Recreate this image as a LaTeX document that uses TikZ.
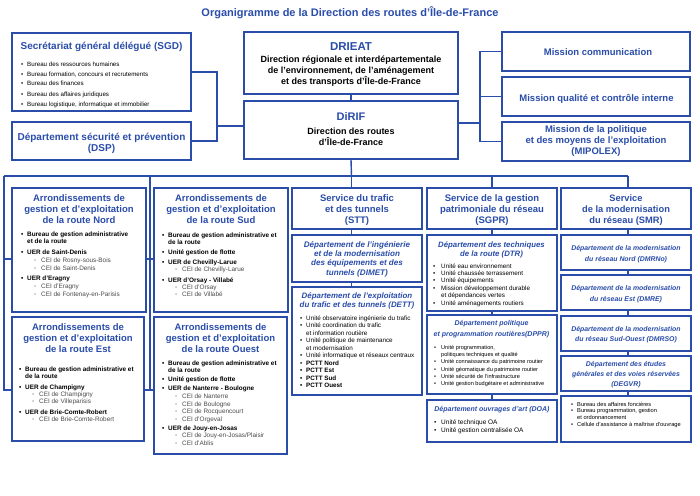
\documentclass[tikz,border=0pt]{standalone}
\usepackage{fontspec}
\setmainfont{Liberation Sans}
\usetikzlibrary{fit}
\definecolor{bl}{RGB}{42,77,170}
\definecolor{cei}{RGB}{75,75,75}
\newlength\bw
\setlength\bw{6pt}
\newcommand\blk[4]{\parbox[t]{#1}{\fontsize{#2}{#3}\selectfont\setlength\lineskiplimit{-20pt}\setlength\parskip{0pt}\setlength\parindent{0pt}#4}}
\newcommand\bu[1]{\makebox[\bw][l]{\textbullet}#1\par}
\newcommand\ct[1]{\hspace*{\bw}#1\par}
\newcommand\sbu[1]{\hspace*{13pt}\makebox[7pt][l]{\textcolor{cei}{\mdseries ◦}}\textcolor{cei}{\mdseries #1}\par}
\tikzset{
  box/.style={draw=bl, line width=1.5pt, inner sep=0pt, rectangle},
  conn/.style={draw=bl, line width=1.4pt},
  hd/.style={inner sep=0pt, anchor=base, text=bl, font=\bfseries},
  hdi/.style={inner sep=0pt, anchor=base, text=bl, font=\bfseries\itshape},
  hdk/.style={inner sep=0pt, anchor=base, text=black, font=\bfseries},
  lst/.style={inner sep=0pt, anchor=base west, text=black},
}
\begin{document}
\begin{tikzpicture}[x=1pt,y=-1pt]
\fill[white] (0,0) rectangle (700,495);
\useasboundingbox (0,0) rectangle (700,495);

% ---------- boxes ----------
\node[box, fit={(12,33) (191,111)}] (sgd) {};
\node[box, fit={(12,122) (191,160)}] (dsp) {};
\node[box, fit={(244,32) (458,94)}] (drieat) {};
\node[box, fit={(244,101) (458,159)}] (dirif) {};
\node[box, fit={(502,32) (690,71)}] (mcom) {};
\node[box, fit={(502,77) (690,116)}] (mqual) {};
\node[box, fit={(502,122) (690,161)}] (mipolex) {};
\node[box, fit={(12,188) (146,312)}] (nord) {};
\node[box, fit={(12,317) (144,441)}] (est) {};
\node[box, fit={(154,188) (288,312)}] (sud) {};
\node[box, fit={(154,317) (287,454)}] (ouest) {};
\node[box, fit={(292,188) (422,229)}] (stt) {};
\node[box, fit={(292,235) (422,282)}] (dimet) {};
\node[box, fit={(292,287) (422,395)}] (dett) {};
\node[box, fit={(427,188) (557,229)}] (sgpr) {};
\node[box, fit={(427,235) (557,311)}] (dtr) {};
\node[box, fit={(427,315) (557,394)}] (dppr) {};
\node[box, fit={(427,400) (557,442)}] (doa) {};
\node[box, fit={(561,188) (691,229)}] (smr) {};
\node[box, fit={(561,235) (691,270)}] (dmrno) {};
\node[box, fit={(561,275) (691,310)}] (dmre) {};
\node[box, fit={(561,316) (691,351)}] (dmrso) {};
\node[box, fit={(561,356) (691,391)}] (degvr) {};
\node[box, fit={(561,396) (691,442)}] (smrl) {};

% ---------- connectors ----------
\coordinate (jl) at (217,126);
\draw[conn] (sgd.east) -| (jl);
\draw[conn] (dsp.east) -| (jl);
\draw[conn] (jl) -- (jl -| dirif.west);
\coordinate (jr) at (480,123);
\draw[conn] (jr -| dirif.east) -- (jr);
\draw[conn] (mcom.west) -| (jr);
\draw[conn] (mqual.west) -| (jr);
\draw[conn] (mipolex.west) -| (jr);
\draw[conn] (drieat.south) -- (dirif.north);
\coordinate (bus) at (351.5,176);
\coordinate (busL) at (4,176);
\coordinate (busR) at (628,176);
\draw[conn] (dirif.south) -- (bus);
\draw[conn] (busL) -- (busR);
% column 1 and 2 brackets
\coordinate (c1m) at (4,259);
\coordinate (c1b) at (4,390);
\draw[conn] (busL) -- (c1b) -- (c1b -| est.west);
\draw[conn] (c1m) -- (c1m -| nord.west);
\coordinate (c2t) at (150,176);
\coordinate (c2m) at (150,259);
\coordinate (c2b) at (150,390);
\draw[conn] (c2t) -- (c2b);
\draw[conn] (c2m -| nord.east) -- (c2m -| sud.west);
\draw[conn] (c2b -| est.east) -- (c2b -| ouest.west);
% column 3
\draw[conn] (bus) -- (bus |- stt.north);
\draw[conn] (bus |- stt.south) -- (bus |- dimet.north);
\draw[conn] (bus |- dimet.south) -- (bus |- dett.north);
% column 4
\draw[conn] (sgpr.north |- bus) -- (sgpr.north);
\draw[conn] (sgpr.south) -- (dtr.north);
\draw[conn] (dtr.south) -- (dppr.north);
\draw[conn] (dppr.south) -- (doa.north);
% column 5
\draw[conn] (busR) -- (busR |- smr.north);
\draw[conn] (busR |- smr.south) -- (busR |- dmrno.north);
\draw[conn] (busR |- dmrno.south) -- (busR |- dmre.north);
\draw[conn] (busR |- dmre.south) -- (busR |- dmrso.north);
\draw[conn] (busR |- dmrso.south) -- (busR |- degvr.north);
\draw[conn] (busR |- degvr.south) -- (busR |- smrl.north);

% ---------- texts ----------
\node[hd] (title) at (350,16.7) {\fontsize{11}{13}\selectfont Organigramme de la Direction des routes d’Île-de-France};

\node[hd] (sgdT) at (101.5,49.5) {\fontsize{10}{12}\selectfont Secrétariat général délégué (SGD)};
\node[lst] (sgdL) at (21,66) {\blk{165pt}{6.2}{10}{%
\bu{Bureau des ressources humaines}\bu{Bureau formation, concours et recrutements}\bu{Bureau des finances}\bu{Bureau des affaires juridiques}\bu{Bureau logistique, informatique et immobilier}}};
\node[hd] (dspT) at (101.5,140.3) {\blk{175pt}{10}{10.7}{\centering Département sécurité et prévention\\(DSP)}};

\node[hd] (drieatT) at (351,50.1) {\fontsize{11.5}{13}\selectfont DRIEAT};
\node[hdk] (drieatS) at (351,62.3) {\blk{210pt}{9}{11.2}{\centering Direction régionale et interdépartementale\\de l’environnement, de l’aménagement\\et des transports d’Île-de-France}};
\node[hd] (dirifT) at (351,120) {\fontsize{11}{13}\selectfont DiRIF};
\node[hdk] (dirifS) at (351,134.7) {\blk{200pt}{9}{10.7}{\centering Direction des routes\\d’Île-de-France}};

\node[hd] (mcomT) at (598,55.3) {\fontsize{9.5}{11}\selectfont Mission communication};
\node[hd] (mqualT) at (596.5,101.3) {\fontsize{9.5}{11}\selectfont Mission qualité et contrôle interne};
\node[hd] (mipT) at (596,132.3) {\blk{185pt}{9.5}{11.3}{\centering Mission de la politique\\et des moyens de l'exploitation\\(MIPOLEX)}};

% column headings
\node[hd] (nordT) at (79,201.2) {\blk{132pt}{9.5}{11}{\centering Arrondissements de\\gestion et d’exploitation\\de la route Nord}};
\node[hd] (estT) at (78,330.5) {\blk{132pt}{9.5}{11}{\centering Arrondissements de\\gestion et d’exploitation\\de la route Est}};
\node[hd] (sudT) at (221,201.2) {\blk{132pt}{9.5}{11}{\centering Arrondissements de\\gestion et d’exploitation\\de la route Sud}};
\node[hd] (ouestT) at (220.5,330.8) {\blk{132pt}{9.5}{11}{\centering Arrondissements de\\gestion et d’exploitation\\de la route Ouest}};
\node[hd] (sttT) at (357,201.2) {\blk{128pt}{9.5}{11}{\centering Service du trafic\\et des tunnels\\(STT)}};
\node[hd] (sgprT) at (492,201.2) {\blk{128pt}{9.5}{11}{\centering Service de la gestion\\patrimoniale du réseau\\(SGPR)}};
\node[hd] (smrT) at (626,201.2) {\blk{128pt}{9.3}{11}{\centering Service\\de la modernisation\\du réseau (SMR)}};

% department headings
\node[hdi] (dimetT) at (357,247.7) {\blk{128pt}{8.1}{9.1}{\centering Département de l’ingénierie\\et de la modernisation\\des équipements et des\\tunnels (DIMET)}};
\node[hdi] (dettT) at (357,298.4) {\blk{128pt}{7.9}{9.3}{\centering Département de l’exploitation\\du trafic et des tunnels (DETT)}};
\node[hdi] (dtrT) at (491.5,247) {\blk{128pt}{7.8}{9}{\centering Département des techniques\\de la route (DTR)}};
\node[lst] (dtrdot) at (491,261.5) {\fontsize{5}{6}\selectfont .};
\node[hdi] (dpprT) at (491.5,325.6) {\blk{128pt}{7}{10.7}{\centering Département politique\\et programmation routières(DPPR)}};
\node[hdi] (doaT) at (492,411.7) {\fontsize{7}{9}\selectfont Département ouvrages d’art (DOA)};
\node[hdi] (dmrnoT) at (626,250.6) {\blk{128pt}{6.9}{10.7}{\centering Département de la modernisation\\du réseau Nord (DMRNo)}};
\node[hdi] (dmreT) at (626,290.6) {\blk{128pt}{6.9}{10.7}{\centering Département de la modernisation\\du réseau Est (DMRE)}};
\node[hdi] (dmrsoT) at (626,331.3) {\blk{128pt}{6.9}{10}{\centering Département de la modernisation\\du réseau Sud-Ouest (DMRSO)}};
\node[hdi] (degvrT) at (626,366.6) {\blk{128pt}{6.9}{9.8}{\centering Département des études\\générales et des voies réservées\\(DEGVR)}};

% lists
\node[lst] (nordL) at (21,236.3) {\blk{125pt}{6.4}{7.6}{\bfseries
\bu{Bureau de gestion administrative}\ct{et de la route}\vspace{3.3pt}%
\bu{UER de Saint-Denis}\sbu{CEI de Rosny-sous-Bois}\sbu{CEI de Saint-Denis}\vspace{3.3pt}%
\bu{UER d’Eragny}\sbu{CEI d’Eragny}\sbu{CEI de Fontenay-en-Parisis}}};
\node[lst] (estL) at (19,371.3) {\blk{125pt}{6.4}{7.4}{\bfseries
\bu{Bureau de gestion administrative et}\ct{de la route}\vspace{3pt}%
\bu{UER de Champigny}\sbu{CEI de Champigny}\sbu{CEI de Villeparisis}\vspace{3pt}%
\bu{UER de Brie-Comte-Robert}\sbu{CEI de Brie-Comte-Robert}}};
\node[lst] (sudL) at (162,237) {\blk{125pt}{6.4}{7.2}{\bfseries
\bu{Bureau de gestion administrative et}\ct{de la route}\vspace{3pt}%
\bu{Unité gestion de flotte}\vspace{3pt}%
\bu{UER de Chevilly-Larue}\sbu{CEI de Chevilly-Larue}\vspace{3pt}%
\bu{UER d’Orsay - Villabé}\sbu{CEI d’Orsay}\sbu{CEI de Villabé}}};
\node[lst] (ouestL) at (162,365.3) {\blk{125pt}{6.4}{7.6}{\bfseries
\bu{Bureau de gestion administrative et}\ct{de la route}\vspace{1.4pt}%
\bu{Unité gestion de flotte}\vspace{1.4pt}%
\bu{UER de Nanterre - Boulogne}\sbu{CEI de Nanterre}\sbu{CEI de Boulogne}\sbu{CEI de Rocquencourt}\sbu{CEI d’Orgeval}\vspace{1.4pt}%
\bu{UER de Jouy-en-Josas}\sbu{CEI de Jouy-en-Josas/Plaisir}\sbu{CEI d’Ablis}}};
\node[lst] (dettL) at (300,320.3) {\blk{120pt}{6.3}{7.5}{%
\bu{Unité observatoire ingénierie du trafic}\bu{Unité coordination du trafic}\ct{et information routière}%
\bu{Unité politique de maintenance}\ct{et modernisation}\bu{Unité informatique et réseaux centraux}%
\bu{\bfseries PCTT Nord}\bu{\bfseries PCTT Est}\bu{\bfseries PCTT Sud}\bu{\bfseries PCTT Ouest}}};
\node[lst] (dtrL) at (433,268) {\blk{122pt}{6.3}{7.4}{\setlength\bw{8pt}%
\bu{Unité eau environnement}\bu{Unité chaussée terrassement}\bu{Unité équipements}%
\bu{Mission développement durable}\ct{et dépendances vertes}\bu{Unité aménagements routiers}}};
\node[lst] (dpprL) at (434,349.1) {\blk{122pt}{5.6}{7.3}{\setlength\bw{7pt}%
\bu{Unité programmation,}\ct{politiques techniques et qualité}\bu{Unité connaissance du patrimoine routier}%
\bu{Unité géomatique du patrimoine routier}\bu{Unité sécurité de l’infrastructure}\bu{Unité gestion budgétaire et administrative}}};
\node[lst] (doaL) at (434,424.5) {\blk{122pt}{6.5}{7.7}{\setlength\bw{7pt}%
\bu{Unité technique OA}\bu{Unité gestion centralisée OA}}};
\node[lst] (smrL) at (571,406) {\blk{120pt}{5.7}{6.9}{%
\bu{Bureau des affaires foncières}\bu{Bureau programmation, gestion}\ct{et ordonnancement}\bu{Cellule d’assistance à maîtrise d’ouvrage}}};
\end{tikzpicture}
\end{document}
